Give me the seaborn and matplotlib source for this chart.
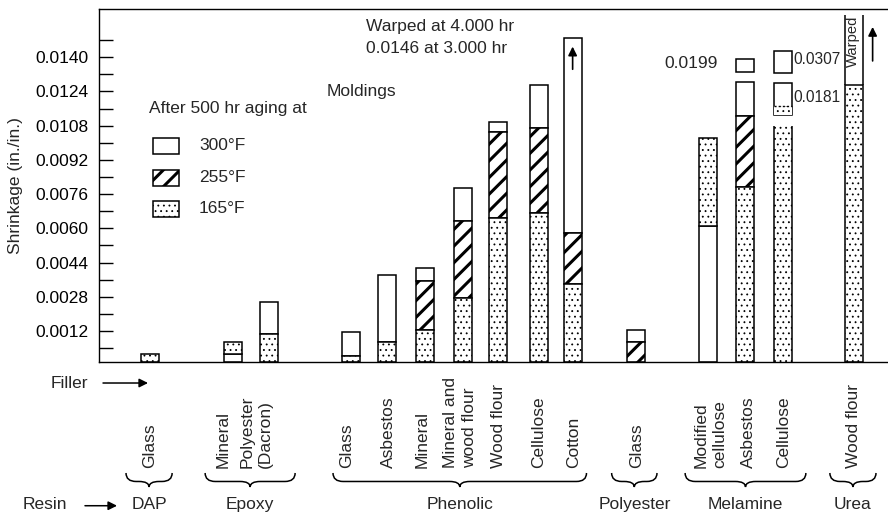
import matplotlib
matplotlib.use("Agg")
import numpy as np
import pandas as pd
import seaborn as sns
import matplotlib.pyplot as plt
from matplotlib.patches import Rectangle, PathPatch
from matplotlib.path import Path
from matplotlib import transforms

# ---------------------------------------------------------------- data
resins = ["DAP", "Epoxy", "Epoxy", "Phenolic", "Phenolic", "Phenolic",
          "Phenolic", "Phenolic", "Phenolic", "Phenolic", "Polyester",
          "Melamine", "Melamine", "Melamine", "Urea"]
fillers = ["Glass", "Mineral", "Polyester\n(Dacron)", "Glass", "Asbestos",
           "Mineral", "Mineral and\nwood flour", "Wood flour", "Cellulose",
           "Cotton", "Glass", "Modified\ncellulose", "Asbestos", "Cellulose",
           "Wood flour"]

# shrinkage (in./in.) segments per aging temperature; lower 0 = rests on the axis
f165_lo = [0, 0.00011, 0, 0, 0, 0, 0, 0, 0, 0, None, 0.00611, 0, 0, 0]
f165_hi = [0.00011, 0.00067, 0.00105, 0.00002, 0.00067, 0.00125, 0.00273,
           0.00647, 0.00670, 0.00340, None, 0.01021, 0.00795, 0.01080, 0.01272]
f255_lo = [None, None, None, None, None, 0.00125, 0.00273, 0.00647, 0.00670,
           0.00340, 0, None, 0.00795, None, None]
f255_hi = [None, None, None, None, None, 0.00352, 0.00636, 0.01049, 0.01071,
           0.00580, 0.00067, None, 0.01127, None, None]
f300_lo = [None, 0, 0.00105, 0.00002, 0.00067, 0.00352, 0.00636, 0.01049,
           0.01071, 0.00580, 0.00067, 0, 0.01127, None, 0.01272]
f300_hi = [None, 0.00011, 0.00254, 0.00115, 0.00383, 0.00416, 0.00789,
           0.01096, 0.01272, 0.01492, 0.00123, 0.00611, 0.01286, None, 0.01598]

# off-scale results shown as detached boxes with their value
off_bar = [12, 13, 13]
off_lo = [0.01330, 0.01130, 0.01325]
off_hi = [0.01392, 0.01278, 0.01431]
off_text = ["0.0199", "0.0181", "0.0307"]
off_165_top = [None, 0.01172, None]

# segments drawn without a closing top edge (bar, temperature)
open_top = {(13, "165"), (14, "300")}

# ---------------------------------------------------------------- layout
bar_x = [1.37, 3.57, 4.52, 6.71, 7.68, 8.69, 9.71, 10.65, 11.72, 12.63,
         14.32, 16.24, 17.23, 18.24, 20.13]
label_x = [1.34, 3.31, 4.19, 6.60, 7.71, 8.61, 9.63, 10.65, 11.71, 12.65,
           14.34, 16.31, 17.31, 18.25, 20.11]
brace_span = {"DAP": (0.72, 1.95), "Epoxy": (2.83, 5.23),
              "Phenolic": (6.24, 13.00), "Polyester": (13.67, 14.88),
              "Melamine": (15.63, 18.85), "Urea": (19.49, 20.72)}
BAR_W = 0.48
Y_FLOOR = -0.00025
Y_TOP = 0.01626
X_MAX = 21.04
EDGE_LW = 1.1
FS = 12.5

STYLES = {"300": dict(hatch=None, hlw=1.0),
          "255": dict(hatch="//", hlw=2.2),
          "165": dict(hatch="...", hlw=0.6)}

sns.set_theme(style="ticks")
plt.rcParams["font.family"] = ["Liberation Sans", "DejaVu Sans"]
plt.rcParams["axes.linewidth"] = 1.0

fig = plt.figure(figsize=(8.88, 5.18), dpi=100)
ax = fig.add_axes([0.1115, 0.3012, 0.8885, 0.6815])
ax.set_xlim(0, X_MAX)
ax.set_ylim(Y_FLOOR, Y_TOP)


def apply_hatch_lw(patch, lw):
    if hasattr(patch, "set_hatch_linewidth"):
        patch.set_hatch_linewidth(lw)


def draw_segment(x, lo, hi, kind, is_open=False, edge=True):
    bottom = Y_FLOOR if lo == 0 else lo
    st = STYLES[kind]
    plt.rcParams["hatch.linewidth"] = st["hlw"]
    lw = EDGE_LW if (edge and not is_open) else 0
    bars = ax.bar(x, hi - bottom, bottom=bottom, width=BAR_W,
                  facecolor="white", edgecolor="black", linewidth=lw,
                  hatch=st["hatch"], zorder=2)
    for p in bars:
        apply_hatch_lw(p, st["hlw"])
    if is_open:
        ax.vlines([x - BAR_W / 2, x + BAR_W / 2], bottom, hi,
                  colors="black", lw=EDGE_LW, zorder=3)


segments = pd.DataFrame({
    "x": bar_x * 3,
    "bar": list(range(len(bar_x))) * 3,
    "kind": ["300"] * 15 + ["255"] * 15 + ["165"] * 15,
    "lo": f300_lo + f255_lo + f165_lo,
    "hi": f300_hi + f255_hi + f165_hi,
})
for _, r in segments.iterrows():
    if r["lo"] is None or pd.isna(r["lo"]):
        continue
    draw_segment(r["x"], r["lo"], r["hi"], r["kind"],
                 is_open=(r["bar"], r["kind"]) in open_top)

# detached boxes for off-scale values
for b, lo, hi, txt, s_top in zip(off_bar, off_lo, off_hi, off_text, off_165_top):
    x = bar_x[b]
    draw_segment(x, lo, hi, "300")
    if s_top is not None:
        draw_segment(x, lo, s_top, "165", edge=False)
        ax.hlines(s_top, x - BAR_W / 2, x + BAR_W / 2, colors="black",
                  lw=1.0, linestyles=(0, (1.5, 1.5)), zorder=3)
    ymid = (lo + hi) / 2
    if b == 12:
        ax.text(x - BAR_W / 2 - 0.5, ymid + 0.00012, txt, ha="right",
                va="center", fontsize=FS)
    else:
        ax.text(x + BAR_W / 2 + 0.03, ymid + 0.00010, txt, ha="left",
                va="center", fontsize=11.2)

# warped indicators
ax.annotate("", xy=(bar_x[9], 0.01450), xytext=(bar_x[9], 0.01344),
            arrowprops=dict(arrowstyle="-|>", color="black", lw=1.2,
                            mutation_scale=13, shrinkA=0, shrinkB=0))
ax.annotate("", xy=(20.63, 0.01542), xytext=(20.63, 0.01383),
            arrowprops=dict(arrowstyle="-|>", color="black", lw=1.2,
                            mutation_scale=13, shrinkA=0, shrinkB=0))
ax.text(bar_x[14] - 0.02, 0.01356, "Warped", rotation=90, ha="center",
        va="bottom", fontsize=10.6)

# annotations
ax.text(7.11, 0.01542, "Warped at 4.000 hr", ha="left", va="center", fontsize=FS)
ax.text(7.11, 0.01439, "0.0146 at 3.000 hr", ha="left", va="center", fontsize=FS)
ax.text(6.07, 0.01239, "Moldings", ha="left", va="center", fontsize=FS)

# legend
ax.text(0.0634, 0.7167, "After 500 hr aging at", transform=ax.transAxes,
        ha="left", va="center", fontsize=FS)
leg_y = [0.6119, 0.5212, 0.4334]
leg_kinds = ["300", "255", "165"]
leg_labels = ["300°F", "255°F", "165°F"]
for yc, kind, lab in zip(leg_y, leg_kinds, leg_labels):
    st = STYLES[kind]
    plt.rcParams["hatch.linewidth"] = st["hlw"]
    rect = Rectangle((0.0681, yc - 0.0227), 0.0337, 0.0453,
                     transform=ax.transAxes, facecolor="white",
                     edgecolor="black", lw=EDGE_LW, hatch=st["hatch"],
                     clip_on=False)
    apply_hatch_lw(rect, st["hlw"])
    ax.add_patch(rect)
    ax.text(0.1267, yc, lab, transform=ax.transAxes, ha="left",
            va="center", fontsize=FS)

# axes styling
major = np.arange(0.0012, 0.01401, 0.0016)
minor = np.arange(0.0004, 0.01481, 0.0016)
ax.set_yticks(major)
ax.set_yticks(minor, minor=True)
ax.set_yticklabels([f"{v:.4f}" for v in major])
ax.set_xticks([])
ax.tick_params(axis="y", which="both", direction="in", length=10, width=1.0,
               pad=7.7, labelsize=FS, colors="black")
ax.spines["right"].set_visible(False)
for s in ("left", "top", "bottom"):
    ax.spines[s].set_color("black")
ax.set_ylabel("Shrinkage (in./in.)", fontsize=FS)
ax.yaxis.set_label_coords(-0.0963, 0.5)

# category axis below the plot
blend = transforms.blended_transform_factory(ax.transData, fig.transFigure)
for x, name in zip(label_x, fillers):
    ax.text(x, 0.0965, name, transform=blend, rotation=90, ha="center",
            va="bottom", multialignment="left", fontsize=FS,
            linespacing=1.3, clip_on=False)

Y_END, Y_MID, Y_TIP = 0.0869, 0.0705, 0.0598
R = 0.27
for resin, (x0, x1) in brace_span.items():
    xc = (x0 + x1) / 2
    verts = [(x0, Y_END), (x0, Y_MID), (x0 + R, Y_MID),
             (xc - R, Y_MID),
             (xc, Y_MID), (xc, Y_TIP),
             (xc, Y_MID), (xc + R, Y_MID),
             (x1 - R, Y_MID),
             (x1, Y_MID), (x1, Y_END)]
    codes = [Path.MOVETO, Path.CURVE3, Path.CURVE3,
             Path.LINETO,
             Path.CURVE3, Path.CURVE3,
             Path.CURVE3, Path.CURVE3,
             Path.LINETO,
             Path.CURVE3, Path.CURVE3]
    ax.add_patch(PathPatch(Path(verts, codes), transform=blend,
                           facecolor="none", edgecolor="black", lw=1.1,
                           clip_on=False))
    ax.text(xc, 0.0251, resin, transform=blend, ha="center", va="center",
            fontsize=FS, clip_on=False)

fig.text(0.0571, 0.2600, "Filler", ha="left", va="center", fontsize=FS)
fig.text(0.0259, 0.0251, "Resin", ha="left", va="center", fontsize=FS)
arrow_kw = dict(arrowstyle="-|>", color="black", lw=1.1, mutation_scale=13,
                shrinkA=0, shrinkB=0)
ax.annotate("", xy=(0.1667, 0.2606), xytext=(0.116, 0.2606),
            xycoords="figure fraction", textcoords="figure fraction",
            arrowprops=arrow_kw)
ax.annotate("", xy=(0.1318, 0.0237), xytext=(0.0957, 0.0237),
            xycoords="figure fraction", textcoords="figure fraction",
            arrowprops=arrow_kw)

fig.savefig("out.png", dpi=100, facecolor="white")
